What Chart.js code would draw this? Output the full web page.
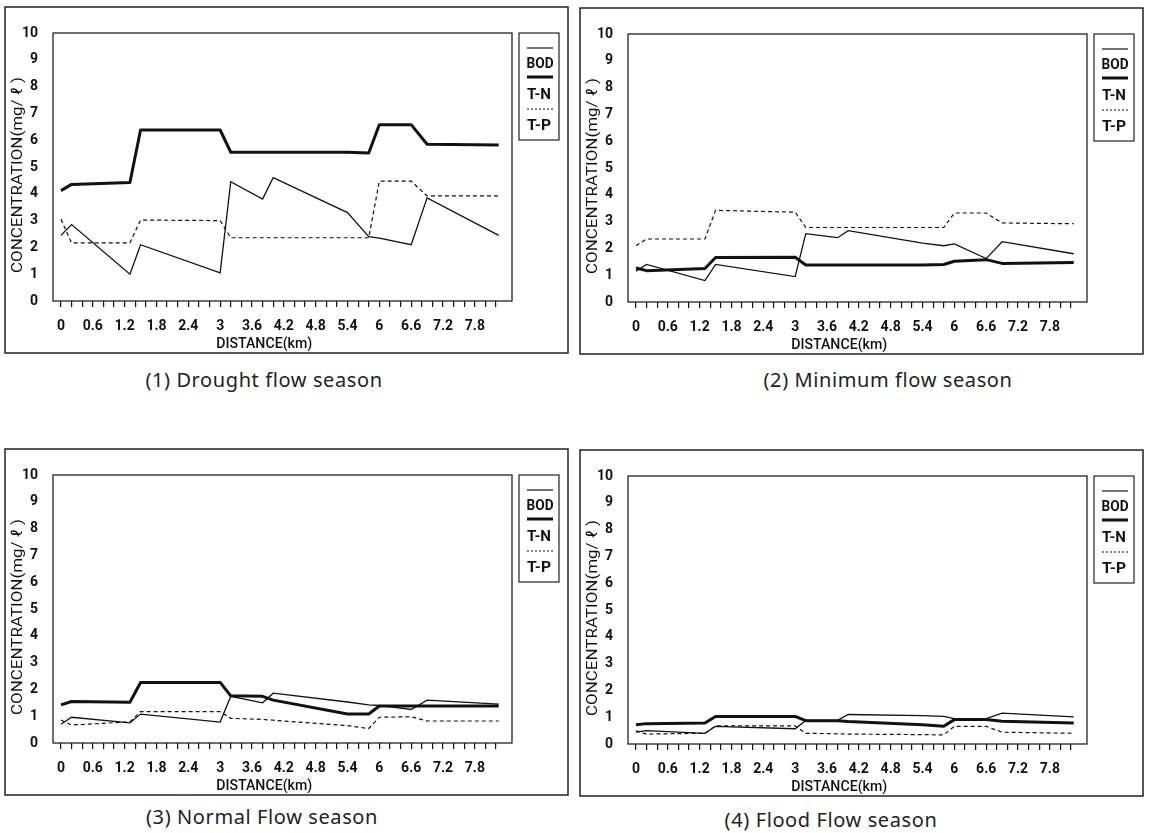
<!DOCTYPE html>
<html>
<head>
<meta charset="utf-8">
<script src="https://cdn.jsdelivr.net/npm/chart.js@4.4.0/dist/chart.umd.min.js"></script>
<style>
  body { margin: 0; background: #fff; width: 1151px; height: 833px; position: relative; overflow: hidden; }
  .panel { position: absolute; width: 565px; height: 348px; }
  .cap { position: absolute; font: 20px 'Noto Sans', sans-serif; letter-spacing: 0.6px; color: #222; transform: translateX(-50%); white-space: nowrap; }
</style>
</head>
<body>
<div class="panel" style="left:4px;top:6px"><canvas id="c1"></canvas></div>
<div class="panel" style="left:579px;top:7px"><canvas id="c2"></canvas></div>
<div class="panel" style="left:4px;top:448px"><canvas id="c3"></canvas></div>
<div class="panel" style="left:579px;top:449px"><canvas id="c4"></canvas></div>
<div class="cap" style="left:264px;top:366px">(1) Drought flow season</div>
<div class="cap" style="left:888px;top:366px">(2) Minimum flow season</div>
<div class="cap" style="left:262px;top:803px">(3) Normal Flow season</div>
<div class="cap" style="left:831px;top:806px">(4) Flood Flow season</div>
<script>
// sampling stations along the river (km)
const distance = [0, 0.2, 1.3, 1.5, 3.0, 3.2, 3.8, 4.0, 5.4, 5.8, 6.0, 6.6, 6.9, 8.25];

// (1) drought flow
const bod1 = [2.45, 2.85, 1.0, 2.1, 1.05, 4.45, 3.8, 4.6, 3.3, 2.4, 2.35, 2.1, 3.85, 2.45];
const tn1  = [4.12, 4.35, 4.42, 6.38, 6.38, 5.55, 5.55, 5.55, 5.55, 5.52, 6.58, 6.58, 5.85, 5.82];
const tp1  = [3.05, 2.17, 2.17, 3.02, 3.0, 2.36, 2.36, 2.36, 2.36, 2.36, 4.47, 4.47, 3.92, 3.92];
// (2) minimum flow
const bod2 = [1.15, 1.4, 0.8, 1.4, 0.95, 2.55, 2.4, 2.66, 2.2, 2.1, 2.17, 1.62, 2.25, 1.8];
const tn2  = [1.27, 1.17, 1.25, 1.66, 1.67, 1.38, 1.38, 1.38, 1.38, 1.4, 1.52, 1.58, 1.44, 1.47];
const tp2  = [2.1, 2.35, 2.35, 3.42, 3.35, 2.78, 2.78, 2.78, 2.78, 2.78, 3.32, 3.32, 2.95, 2.92];
// (3) normal flow
const bod3 = [0.7, 0.96, 0.75, 1.08, 0.78, 1.74, 1.5, 1.86, 1.53, 1.42, 1.4, 1.25, 1.6, 1.45];
const tn3  = [1.42, 1.55, 1.52, 2.26, 2.26, 1.76, 1.74, 1.6, 1.08, 1.08, 1.38, 1.38, 1.38, 1.38];
const tp3  = [0.86, 0.67, 0.79, 1.17, 1.17, 0.92, 0.88, 0.85, 0.65, 0.54, 0.96, 0.98, 0.82, 0.82];
// (4) flood flow
const bod4 = [0.44, 0.5, 0.4, 0.66, 0.57, 0.88, 0.88, 1.1, 1.06, 1.03, 0.95, 0.95, 1.15, 1.01];
const tn4  = [0.72, 0.76, 0.78, 1.03, 1.03, 0.87, 0.87, 0.84, 0.72, 0.66, 0.91, 0.91, 0.85, 0.78];
const tp4  = [0.49, 0.37, 0.4, 0.68, 0.68, 0.4, 0.38, 0.37, 0.35, 0.34, 0.66, 0.66, 0.44, 0.4];

const xTickLabels = ['0', '0.6', '1.2', '1.8', '2.4', '3', '3.6', '4.2', '4.8', '5.4', '6', '6.6', '7.2', '7.8'];
const xTickStep = 0.2;
const xTickMax = 8.2;
const legendNames = ['BOD', 'T-N', 'T-P'];

const narrow = "Roboto, 'Liberation Sans', sans-serif";
const ink = '#111';

// draw text squeezed/stretched to a given width
function fitText(ctx, text, x, y, w) {
  const m = ctx.measureText(text).width;
  ctx.save();
  ctx.translate(x, y);
  ctx.scale(w / m, 1);
  ctx.fillText(text, 0, 0);
  ctx.restore();
}

const framePlugin = {
  id: 'frame',
  afterDraw(chart) {
    const ctx = chart.ctx;
    const a = chart.chartArea;
    const W = chart.width, H = chart.height;
    ctx.save();
    ctx.strokeStyle = '#222';
    ctx.fillStyle = ink;
    // outer box
    ctx.lineWidth = 1.5;
    ctx.strokeRect(1, 1, W - 2, H - 2);
    // plot frame
    ctx.lineWidth = 1.3;
    ctx.strokeRect(a.left, a.top, a.right - a.left, a.bottom - a.top);

    // legend box
    const lx = a.right + 7, ly = a.top, lw = 40, lh = 107;
    ctx.lineWidth = 1.2;
    ctx.strokeRect(lx, ly, lw, lh);
    ctx.textAlign = 'center';
    ctx.textBaseline = 'middle';
    ctx.font = 'bold 14px ' + narrow;
    ctx.strokeStyle = ink;
    // BOD
    ctx.lineWidth = 1.2;
    ctx.beginPath(); ctx.moveTo(lx + 8, ly + 15); ctx.lineTo(lx + 34, ly + 15); ctx.stroke();
    fitText(ctx, legendNames[0], lx + 21, ly + 31, 27);
    // T-N
    ctx.lineWidth = 3;
    ctx.beginPath(); ctx.moveTo(lx + 8, ly + 44); ctx.lineTo(lx + 34, ly + 44); ctx.stroke();
    fitText(ctx, legendNames[1], lx + 20, ly + 62, 24);
    // T-P
    ctx.lineWidth = 1;
    ctx.setLineDash([2, 2]);
    ctx.beginPath(); ctx.moveTo(lx + 8, ly + 76); ctx.lineTo(lx + 34, ly + 76); ctx.stroke();
    ctx.setLineDash([]);
    fitText(ctx, legendNames[2], lx + 20, ly + 93, 24);

    // x axis title
    ctx.font = '500 15px ' + narrow;
    const xs = chart.scales.x;
    const cx = xs.getPixelForValue(3.83);
    fitText(ctx, 'DISTANCE(km)', cx, a.bottom + 43, 96);

    // y axis title
    ctx.save();
    ctx.translate(14, (a.top + a.bottom) / 2 + 8);
    ctx.rotate(-Math.PI / 2);
    ctx.font = '15px ' + narrow;
    fitText(ctx, 'CONCENTRATION(mg/ ℓ )', 0, 0, 196);
    ctx.restore();
    ctx.restore();
  }
};

function makeChart(id, bod, tn, tp) {
  const pts = vals => distance.map((d, i) => ({ x: d, y: vals[i] }));
  new Chart(document.getElementById(id), {
    type: 'line',
    data: {
      datasets: [
        { label: 'T-P', data: pts(tp), borderColor: ink, borderWidth: 1.2, borderDash: [4, 3], pointRadius: 0, tension: 0 },
        { label: 'BOD', data: pts(bod), borderColor: ink, borderWidth: 1.3, pointRadius: 0, tension: 0 },
        { label: 'T-N', data: pts(tn), borderColor: ink, borderWidth: 3, pointRadius: 0, tension: 0, borderJoinStyle: 'round' }
      ]
    },
    options: {
      animation: false,
      responsive: true,
      maintainAspectRatio: false,
      layout: { padding: { top: 27, right: 57, bottom: 1, left: 0 } },
      plugins: { legend: { display: false }, tooltip: { enabled: false } },
      scales: {
        x: {
          type: 'linear',
          min: -0.15,
          max: 8.5,
          afterBuildTicks: s => {
            const t = [];
            for (let v = 0; v <= xTickMax + 1e-6; v += xTickStep) t.push({ value: Math.round(v * 10) / 10 });
            s.ticks = t;
          },
          afterFit: s => { s.height = 52; },
          grid: { drawOnChartArea: false, drawTicks: true, tickLength: 6, color: ink, lineWidth: 1.2 },
          border: { display: false },
          ticks: {
            autoSkip: false,
            maxRotation: 0,
            padding: 11,
            color: ink,
            font: { family: narrow, size: 14, weight: 'bold' },
            callback: v => {
              const s = String(Math.round(v * 10) / 10);
              return xTickLabels.includes(s) && Math.round(v * 10) % 6 === 0 ? s : '';
            }
          }
        },
        y: {
          min: 0,
          max: 10,
          afterFit: s => { s.width = 49; },
          grid: { display: false, drawTicks: false },
          border: { display: false },
          ticks: {
            stepSize: 1,
            padding: 15,
            color: ink,
            font: { family: narrow, size: 14, weight: 'bold' }
          }
        }
      }
    },
    plugins: [framePlugin]
  });
}

makeChart('c1', bod1, tn1, tp1);
makeChart('c2', bod2, tn2, tp2);
makeChart('c3', bod3, tn3, tp3);
makeChart('c4', bod4, tn4, tp4);
</script>
</body>
</html>
